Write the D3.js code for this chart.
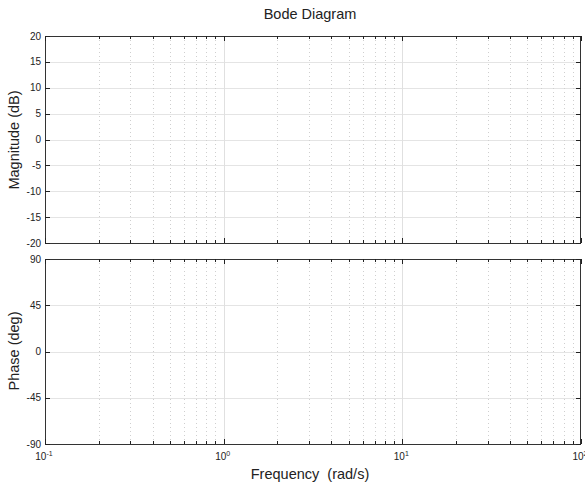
<!DOCTYPE html>
<html>
<head>
<meta charset="utf-8">
<script src="https://cdn.jsdelivr.net/npm/d3@7"></script>
<style>
  body { margin: 0; background: #fff; }
  text { font-family: "Liberation Sans", Arial, sans-serif; fill: #222; }
</style>
</head>
<body>
<svg id="chart" width="585" height="484"></svg>
<script>
const freqDomain = [0.1, 100];
const decades = [-1, 0, 1, 2];
const magTicks = [-20, -15, -10, -5, 0, 5, 10, 15, 20];
const phaseTicks = [-90, -45, 0, 45, 90];

const svg = d3.select('#chart');
const left = 45, right = 581;

const x = d3.scaleLog().domain(freqDomain).range([left, right]);
const yMag = d3.scaleLinear().domain([-20, 20]).range([243, 36]);
const yPhase = d3.scaleLinear().domain([-90, 90]).range([444, 259]);

const minorFreqs = [];
decades.slice(0, -1).forEach(p => {
  for (let m = 2; m <= 9; m++) minorFreqs.push(m * Math.pow(10, p));
});
const majorFreqs = decades.map(p => Math.pow(10, p));

function drawPanel(y, ticks) {
  const g = svg.append('g');
  const [y0, y1] = [y.range()[1], y.range()[0]];

  // grid
  g.selectAll('.hgrid').data(ticks.slice(1, -1)).enter().append('line')
    .attr('x1', left).attr('x2', right)
    .attr('y1', d => Math.round(y(d)) + 0.5).attr('y2', d => Math.round(y(d)) + 0.5)
    .attr('stroke', '#e4e4e4').attr('stroke-width', 1);
  g.selectAll('.vmin').data(minorFreqs).enter().append('line')
    .attr('x1', d => Math.round(x(d)) + 0.5).attr('x2', d => Math.round(x(d)) + 0.5)
    .attr('y1', y0).attr('y2', y1)
    .attr('stroke', '#cfcfcf').attr('stroke-dasharray', '1,3');
  g.selectAll('.vmaj').data(majorFreqs.slice(1, -1)).enter().append('line')
    .attr('x1', d => Math.round(x(d)) + 0.5).attr('x2', d => Math.round(x(d)) + 0.5)
    .attr('y1', y0).attr('y2', y1)
    .attr('stroke', '#e0e0e0');

  // frame
  g.append('rect')
    .attr('x', left + 0.5).attr('y', y0 + 0.5)
    .attr('width', right - left - 1).attr('height', y1 - y0)
    .attr('fill', 'none').attr('stroke', '#333').attr('stroke-width', 1);

  // tick marks on all sides
  const allX = majorFreqs.concat(minorFreqs);
  allX.forEach(f => {
    const xx = Math.round(x(f)) + 0.5;
    const len = majorFreqs.includes(f) ? 5 : 3;
    g.append('line').attr('x1', xx).attr('x2', xx).attr('y1', y0).attr('y2', y0 + len).attr('stroke', '#222');
    g.append('line').attr('x1', xx).attr('x2', xx).attr('y1', y1).attr('y2', y1 - len).attr('stroke', '#222');
  });
  ticks.forEach(t => {
    const yy = Math.round(y(t)) + 0.5;
    g.append('line').attr('x1', left).attr('x2', left + 5).attr('y1', yy).attr('y2', yy).attr('stroke', '#222');
    g.append('line').attr('x1', right).attr('x2', right - 5).attr('y1', yy).attr('y2', yy).attr('stroke', '#222');
  });

  // y labels
  g.selectAll('.ylab').data(ticks).enter().append('text')
    .attr('x', left - 4).attr('y', d => y(d) + 3.5)
    .attr('text-anchor', 'end').attr('font-size', 10)
    .text(d => d);
  return g;
}

drawPanel(yMag, magTicks);
drawPanel(yPhase, phaseTicks);

// x tick labels
decades.forEach(p => {
  const t = svg.append('text')
    .attr('x', x(Math.pow(10, p)) - 1).attr('y', 460)
    .attr('text-anchor', 'middle').attr('font-size', 10);
  t.append('tspan').text('10');
  t.append('tspan').attr('dy', -4).attr('font-size', 7).text(p);
});

svg.append('text')
  .attr('x', 310).attr('y', 19)
  .attr('text-anchor', 'middle').attr('font-size', 14.5)
  .text('Bode Diagram');

svg.append('text')
  .attr('x', 310).attr('y', 479)
  .attr('text-anchor', 'middle').attr('font-size', 14.5)
  .attr('xml:space', 'preserve')
  .text('Frequency  (rad/s)');

svg.append('text')
  .attr('transform', 'translate(19,140) rotate(-90)')
  .attr('text-anchor', 'middle').attr('font-size', 14.5)
  .text('Magnitude (dB)');

svg.append('text')
  .attr('transform', 'translate(19,351) rotate(-90)')
  .attr('text-anchor', 'middle').attr('font-size', 14.5)
  .text('Phase (deg)');
</script>
</body>
</html>
